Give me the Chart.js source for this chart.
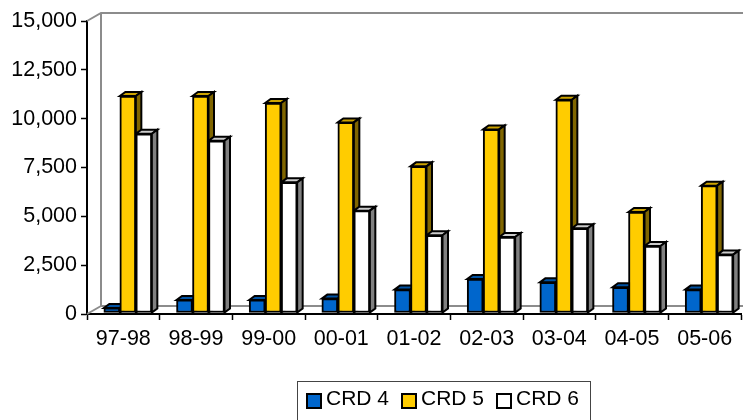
<!DOCTYPE html>
<html>
<head>
<meta charset="utf-8">
<script src="https://cdn.jsdelivr.net/npm/chart.js@4"></script>
<style>
  body { margin: 0; background: #fff; overflow: hidden; }
  #wrap { position: relative; width: 743px; height: 420px; }
  #legend {
    position: absolute; left: 297px; top: 381px; width: 294px; height: 45px;
    border: 1px solid #444; box-sizing: border-box;
    font: 21px "Liberation Sans", Arial, sans-serif; color: #000;
  }
  #legend span { position: absolute; top: 4px; line-height: 24px; white-space: pre; }
  #legend i { position: absolute; top: 11px; width: 16px; height: 16px; border: 2px solid #000; box-sizing: border-box; }
</style>
</head>
<body>
<div id="wrap">
  <canvas id="grafica" width="743" height="420"></canvas>
  <div id="legend"></div>
</div>
<script>
const categories = ["97-98", "98-99", "99-00", "00-01", "01-02", "02-03", "03-04", "04-05", "05-06"]
const crd4 = [310, 720, 720, 790, 1250, 1790, 1620, 1370, 1250]
const crd5 = [11160, 11160, 10800, 9810, 7560, 9450, 10970, 5220, 6570]
const crd6 = [9230, 8870, 6740, 5290, 4030, 3940, 4390, 3480, 3040]

const colors = ["#0066CC", "#FFCC00", "#FFFFFF"]
const topColors = ["#0052A3", "#CCA300", "#CCCCCC"]
const sideColors = ["#003366", "#806600", "#808080"]

const depthX = 5.5
const depthY = 4

// the picture's bars sit a bit to the right of the labels, because of the 3D wall
const barShift = 4.5

const wall3d = {
    id: "wall3d",
    afterDatasetsUpdate(chart) {
        chart.data.datasets.forEach((ds, i) => {
            chart.getDatasetMeta(i).data.forEach(bar => {
                bar.x += barShift
                bar.base -= 1
            })
        })
    },
    beforeDatasetsDraw(chart) {
        const ctx = chart.ctx
        const a = chart.chartArea
        ctx.save()
        ctx.strokeStyle = "#8c8c8c"
        ctx.lineWidth = 2
        ctx.beginPath()
        ctx.moveTo(a.left, a.top)
        ctx.lineTo(a.left + 14, a.top - 8)
        ctx.lineTo(743, a.top - 8)
        ctx.moveTo(a.left + 14, a.top - 8)
        ctx.lineTo(a.left + 14, a.bottom - 8)
        ctx.lineTo(743, a.bottom - 8)
        ctx.moveTo(a.left, a.bottom)
        ctx.lineTo(a.left + 14, a.bottom - 8)
        ctx.stroke()

        // top and side of every bar, the fronts come after from the library
        ctx.strokeStyle = "#000"
        ctx.lineWidth = 2
        chart.data.datasets.forEach((ds, i) => {
            chart.getDatasetMeta(i).data.forEach(bar => {
                const l = bar.x - bar.width / 2
                const r = bar.x + bar.width / 2
                ctx.fillStyle = topColors[i]
                ctx.beginPath()
                ctx.moveTo(l, bar.y)
                ctx.lineTo(l + depthX, bar.y - depthY)
                ctx.lineTo(r + depthX, bar.y - depthY)
                ctx.lineTo(r, bar.y)
                ctx.closePath()
                ctx.fill()
                ctx.stroke()
                ctx.fillStyle = sideColors[i]
                ctx.beginPath()
                ctx.moveTo(r, bar.y)
                ctx.lineTo(r + depthX, bar.y - depthY)
                ctx.lineTo(r + depthX, bar.base - depthY)
                ctx.lineTo(r, bar.base)
                ctx.closePath()
                ctx.fill()
                ctx.stroke()
            })
        })
        ctx.restore()
    }
}

const makeDataset = (label, values, i) => ({
    label: label,
    data: values,
    backgroundColor: colors[i],
    borderColor: "#000",
    borderWidth: 2,
    borderSkipped: false,
    barThickness: 16
})

const font = { family: '"Liberation Sans", Arial, sans-serif', size: 21.5 }

const config = {
    type: "bar",
    data: {
        labels: categories,
        datasets: [
            makeDataset("CRD 4", crd4, 0),
            makeDataset("CRD 5", crd5, 1),
            makeDataset("CRD 6", crd6, 2)
        ]
    },
    options: {
        responsive: false,
        animation: false,
        events: [],
        layout: { padding: { top: 21, right: 2, left: 0, bottom: 0 } },
        plugins: { legend: { display: false }, tooltip: { enabled: false } },
        scales: {
            x: {
                afterFit(scale) { scale.height = 106 },
                border: { color: "#000", width: 2 },
                grid: { drawOnChartArea: false, color: "#000", tickLength: 6, tickWidth: 1.5 },
                ticks: { color: "#000", font: font, padding: 6, maxRotation: 0 }
            },
            y: {
                min: 0,
                max: 15000,
                afterFit(scale) { scale.width = 87 },
                border: { color: "#000", width: 2 },
                grid: { drawOnChartArea: false, color: "#000", tickLength: 6, tickWidth: 1.5 },
                ticks: {
                    stepSize: 2500,
                    color: "#000",
                    font: font,
                    padding: 4,
                    callback: v => v.toLocaleString("en-US")
                }
            }
        }
    },
    plugins: [wall3d]
}

const chart = new Chart(document.querySelector("#grafica"), config)

// legend is html, the gap box-text is tighter than the built in one allows
const legend = document.querySelector("#legend")
const legendX = [8, 103, 198]
chart.data.datasets.forEach((ds, i) => {
    const box = document.createElement("i")
    box.style.left = legendX[i] + "px"
    box.style.background = colors[i]
    const text = document.createElement("span")
    text.style.left = (legendX[i] + 20) + "px"
    text.textContent = ds.label
    legend.append(box, text)
})
</script>
</body>
</html>
